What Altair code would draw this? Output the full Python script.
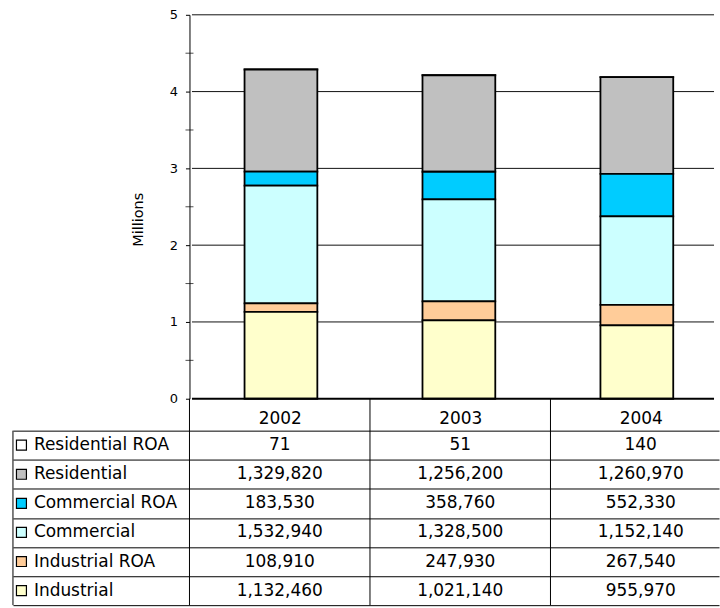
import altair as alt
import pandas as pd

FONT = "DejaVu Sans"

years = ["2002", "2003", "2004"]
series = ["Residential ROA", "Residential", "Commercial ROA", "Commercial", "Industrial ROA", "Industrial"]
colors = ["#FFFFFF", "#C0C0C0", "#00CCFF", "#CCFFFF", "#FFCC99", "#FFFFCC"]

residential_roa = [71, 51, 140]
residential = [1329820, 1256200, 1260970]
commercial_roa = [183530, 358760, 552330]
commercial = [1532940, 1328500, 1152140]
industrial_roa = [108910, 247930, 267540]
industrial = [1132460, 1021140, 955970]

y_ticks = [0, 1, 2, 3, 4, 5]
minor_ticks = [0.5, 1.5, 2.5, 3.5, 4.5]

series_values = [residential_roa, residential, commercial_roa, commercial, industrial_roa, industrial]

rows = []
for i, (s, vals) in enumerate(zip(series, series_values)):
    for j, (yr, v) in enumerate(zip(years, vals)):
        rows.append({"series": s, "year": yr, "col": j, "value": v, "millions": v / 1e6,
                     "stack": len(series) - 1 - i})
df = pd.DataFrame(rows)

# layout: each year column is 181 px wide; label column 177 px; view 708 px
COL_PX = 181
LABEL_PX = 177
VIEW_W = 708
TABLE_H = 175
HEADER_H = 32
x_min = -0.5 - LABEL_PX / COL_PX
x_max = x_min + VIEW_W / COL_PX
xs = alt.Scale(domain=[x_min, x_max], nice=False, zero=False)
col_edges = [j - 0.5 for j in range(len(years))]

color_scale = alt.Scale(domain=series, range=colors)

# ---------- bar chart ----------
grid_df = pd.DataFrame({"millions": y_ticks[1:], "col": col_edges[0], "col_end": x_max})
gridlines = alt.Chart(grid_df).mark_rule(color="#111111", strokeWidth=1).encode(
    y="millions:Q", x=alt.X("col:Q", scale=xs, axis=None), x2="col_end:Q")

bars = alt.Chart(df).mark_bar(size=73, stroke="black", strokeWidth=1.8).encode(
    x=alt.X("col:Q", scale=xs, axis=None),
    y=alt.Y("millions:Q", stack="zero",
            scale=alt.Scale(domain=[0, 5], nice=False),
            axis=alt.Axis(values=y_ticks, format="d", title="Millions", offset=-LABEL_PX,
                          titleFont=FONT, titleFontSize=14.5, titleFontWeight="normal",
                          titleColor="black", titlePadding=24, titleY=205,
                          labelFont=FONT, labelFontSize=13, labelColor="black",
                          labelPadding=8, tickSize=4, tickColor="black",
                          domainColor="black", grid=False)),
    color=alt.Color("series:N", scale=color_scale, legend=None),
    order=alt.Order("stack:Q", sort="ascending"),
)

zero_df = pd.DataFrame({"millions": [0], "col": [col_edges[0]], "col_end": [x_max]})
zero_line = alt.Chart(zero_df).mark_rule(color="black", strokeWidth=2).encode(
    y="millions:Q", x=alt.X("col:Q", scale=xs, axis=None), x2="col_end:Q")

minor = alt.Chart(pd.DataFrame({"millions": minor_ticks})).mark_tick(
    color="black", thickness=1, size=8
).encode(y="millions:Q", x=alt.value(LABEL_PX))

top = alt.layer(gridlines, bars, zero_line, minor).properties(width=VIEW_W, height=385)

# ---------- data table ----------
label_expr = "[" + ",".join("'%s'" % y for y in years) + "][datum.value]"

y_table = alt.Y("series:N", sort=series,
                scale=alt.Scale(type="band", paddingInner=0, paddingOuter=0),
                axis=alt.Axis(title=None, labels=False, ticks=False, domain=False,
                              grid=True, tickBand="extent", gridColor="black", gridWidth=1))

x_table = alt.X("col:Q", scale=xs,
                axis=alt.Axis(orient="top", title=None, values=list(range(len(years))),
                              labelExpr=label_expr, ticks=False, domain=False, grid=False,
                              labelFont=FONT, labelFontSize=17, labelColor="black",
                              labelBaseline="middle", labelPadding=12.5, labelAngle=0))

cells = alt.Chart(df).mark_text(font=FONT, fontSize=17, color="black").encode(
    x=x_table, y=y_table, text=alt.Text("value:Q", format=","))

col_lines = alt.Chart(pd.DataFrame({"col": col_edges})).mark_rule(
    color="black", strokeWidth=1
).encode(x=x_table, y=alt.value(-HEADER_H), y2=alt.value(TABLE_H))

left_border = alt.Chart(pd.DataFrame({"v": [0]})).mark_rule(
    color="black", strokeWidth=1
).encode(x=alt.value(0), y=alt.value(0), y2=alt.value(TABLE_H))

row_labels = alt.Chart(pd.DataFrame({"series": series})).mark_text(
    font=FONT, fontSize=17, color="black", align="left", baseline="middle"
).encode(x=alt.value(21), y=y_table, text="series:N")

swatches = alt.Chart(pd.DataFrame({"series": series})).mark_square(
    size=100, stroke="black", strokeWidth=1.2, opacity=1
).encode(x=alt.value(8.5), y=y_table,
         color=alt.Color("series:N", scale=color_scale, legend=None))

table = alt.layer(cells, col_lines, left_border, row_labels, swatches).properties(
    width=VIEW_W, height=TABLE_H)

chart = alt.vconcat(top, table, spacing=HEADER_H, bounds="flush").resolve_scale(
    x="independent", y="independent"
).properties(
    padding={"left": 12, "top": 7, "right": 0, "bottom": 0},
    background="white",
).configure_view(stroke="transparent")

chart.save("out.html", embed_options={"renderer": "svg", "actions": False})
